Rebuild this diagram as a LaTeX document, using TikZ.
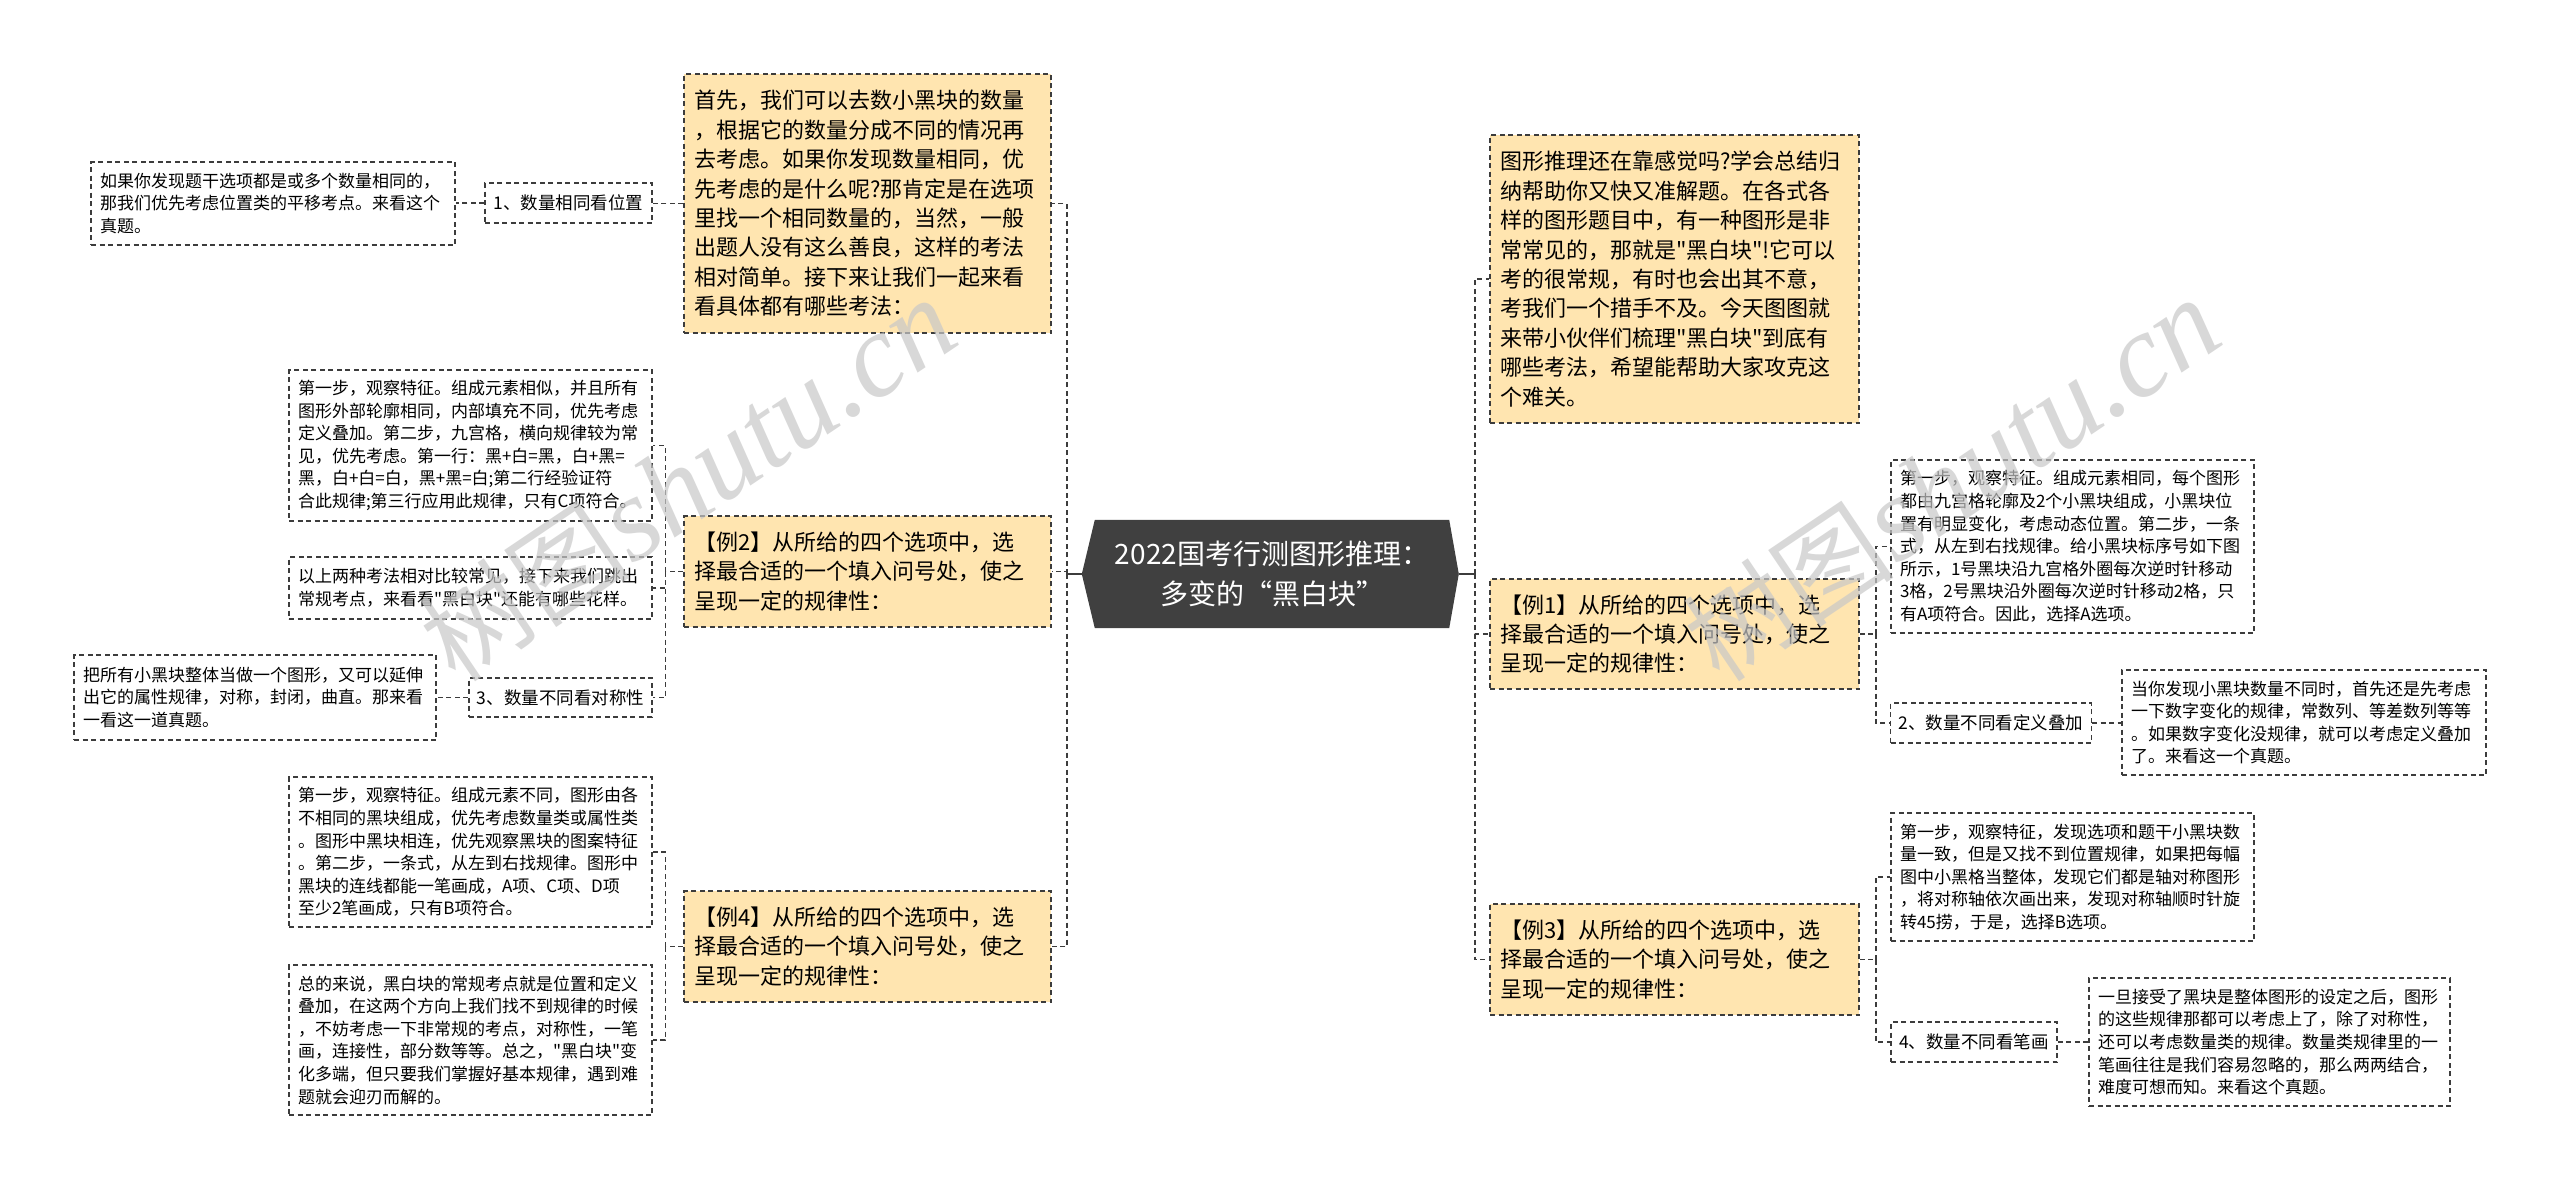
\documentclass[tikz,border=0pt]{standalone}
\usepackage{fontspec}
\setmainfont{Noto Sans CJK SC}
\newfontfamily\cjk{Noto Sans CJK SC}
\newfontfamily\wmserif{Liberation Serif}
\usetikzlibrary{backgrounds}
\definecolor{yel}{RGB}{255,229,176}
\definecolor{lc}{RGB}{60,60,60}
\definecolor{darkfill}{RGB}{64,64,64}
\definecolor{wmcol}{RGB}{200,200,200}
\tikzset{
  dsh/.style={dash pattern=on 5pt off 3.5pt},
  boxbase/.style={draw=lc, line width=1.5pt, dsh, align=left, anchor=center},
  ybox/.style={boxbase, fill=yel, inner xsep=10pt, inner ysep=0pt, font=\cjk\fontsize{22}{29.4}\selectfont},
  wbox/.style={boxbase, fill=white, inner xsep=9pt, inner ysep=0pt, font=\cjk\fontsize{17}{22.6}\selectfont},
  lbox/.style={boxbase, fill=white, inner xsep=8pt, inner ysep=0pt, align=center, font=\cjk\fontsize{17.5}{22}\selectfont},
  conn/.style={draw=lc, line width=1.5pt, dsh},
  stub/.style={draw=lc, line width=1.5pt},
  rootbox/.style={inner sep=0pt, text=white, align=center, minimum width=354pt, minimum height=108pt, font=\cjk\fontsize{28}{40}\selectfont},
  wmark/.style={text=wmcol, opacity=0.7, inner sep=0pt, font=\cjk\fontsize{106}{106}\selectfont},
}
\newcommand\wmtext{树图{\wmserif\itshape\fontsize{119}{119}\selectfont shutu.cn}}
\begin{document}
\begin{tikzpicture}[x=1pt,y=-1pt]
\useasboundingbox (0,0) rectangle (2560,1189);
\begin{pgfonlayer}{background}
\fill[white] (0,0) rectangle (2560,1189);
\end{pgfonlayer}

% root
\node[rootbox] (root) at (1272,574) {2022国考行测图形推理：\\多变的“黑白块”};
\begin{pgfonlayer}{background}
\fill[darkfill] (root.north west) -- (root.north east) -- ([xshift=9.6pt]root.east) -- (root.south east) -- (root.south west) -- ([xshift=-13pt]root.west) -- cycle;
\end{pgfonlayer}
\coordinate (rootL) at ([xshift=-13pt]root.west);
\coordinate (rootR) at ([xshift=9.6pt]root.east);

% left side
\node[ybox, text width=347pt, minimum height=259pt] (A) at (867.5,203.5) {首先，我们可以去数小黑块的数量\\，根据它的数量分成不同的情况再\\去考虑。如果你发现数量相同，优\\先考虑的是什么呢?那肯定是在选项\\里找一个相同数量的，当然，一般\\出题人没有这么善良，这样的考法\\相对简单。接下来让我们一起来看\\看具体都有哪些考法：};
\node[lbox, minimum width=167pt, minimum height=40pt] (B) at (568.5,203) {1、数量相同看位置};
\node[wbox, text width=346pt, minimum height=83pt] (C) at (273,203.5) {如果你发现题干选项都是或多个数量相同的，\\那我们优先考虑位置类的平移考点。来看这个\\真题。};

\node[ybox, text width=347pt, minimum height=111pt] (D) at (867.5,571.5) {【例2】从所给的四个选项中，选\\择最合适的一个填入问号处，使之\\呈现一定的规律性：};
\node[wbox, text width=345pt, minimum height=151pt] (E) at (470.5,445.5) {第一步，观察特征。组成元素相似，并且所有\\图形外部轮廓相同，内部填充不同，优先考虑\\定义叠加。第二步，九宫格，横向规律较为常\\见，优先考虑。第一行：黑+白=黑，白+黑=\\黑，白+白=白，黑+黑=白;第二行经验证符\\合此规律;第三行应用此规律，只有C项符合。};
\node[wbox, text width=345pt, minimum height=62pt] (F) at (470.5,588) {以上两种考法相对比较常见，接下来我们跳出\\常规考点，来看看"黑白块"还能有哪些花样。};
\node[lbox, minimum width=183pt, minimum height=39pt] (G) at (560.5,697.5) {3、数量不同看对称性};
\node[wbox, text width=344pt, minimum height=85pt] (H) at (255,697.5) {把所有小黑块整体当做一个图形，又可以延伸\\出它的属性规律，对称，封闭，曲直。那来看\\一看这一道真题。};

\node[ybox, text width=347pt, minimum height=111pt] (I) at (867.5,946.5) {【例4】从所给的四个选项中，选\\择最合适的一个填入问号处，使之\\呈现一定的规律性：};
\node[wbox, text width=345pt, minimum height=150pt] (J) at (470.5,852) {第一步，观察特征。组成元素不同，图形由各\\不相同的黑块组成，优先考虑数量类或属性类\\。图形中黑块相连，优先观察黑块的图案特征\\。第二步，一条式，从左到右找规律。图形中\\黑块的连线都能一笔画成，A项、C项、D项\\至少2笔画成，只有B项符合。};
\node[wbox, text width=345pt, minimum height=150pt] (K) at (470.5,1040) {总的来说，黑白块的常规考点就是位置和定义\\叠加，在这两个方向上我们找不到规律的时候\\，不妨考虑一下非常规的考点，对称性，一笔\\画，连接性，部分数等等。总之，"黑白块"变\\化多端，但只要我们掌握好基本规律，遇到难\\题就会迎刃而解的。};

% right side
\node[ybox, text width=349pt, minimum height=288pt] (L) at (1674.5,279) {图形推理还在靠感觉吗?学会总结归\\纳帮助你又快又准解题。在各式各\\样的图形题目中，有一种图形是非\\常常见的，那就是"黑白块"!它可以\\考的很常规，有时也会出其不意，\\考我们一个措手不及。今天图图就\\来带小伙伴们梳理"黑白块"到底有\\哪些考法，希望能帮助大家攻克这\\个难关。};

\node[ybox, text width=349pt, minimum height=110pt] (M) at (1674.5,634) {【例1】从所给的四个选项中，选\\择最合适的一个填入问号处，使之\\呈现一定的规律性：};
\node[wbox, text width=345pt, minimum height=173pt] (N) at (2072.5,546.5) {第一步，观察特征。组成元素相同，每个图形\\都由九宫格轮廓及2个小黑块组成，小黑块位\\置有明显变化，考虑动态位置。第二步，一条\\式，从左到右找规律。给小黑块标序号如下图\\所示，1号黑块沿九宫格外圈每次逆时针移动\\3格，2号黑块沿外圈每次逆时针移动2格，只\\有A项符合。因此，选择A选项。};
\node[lbox, minimum width=200pt, minimum height=40pt] (O) at (1991,723) {2、数量不同看定义叠加};
\node[wbox, text width=346pt, minimum height=105pt] (P) at (2304,722.5) {当你发现小黑块数量不同时，首先还是先考虑\\一下数字变化的规律，常数列、等差数列等等\\。如果数字变化没规律，就可以考虑定义叠加\\了。来看这一个真题。};

\node[ybox, text width=349pt, minimum height=111pt] (Q) at (1674.5,959.5) {【例3】从所给的四个选项中，选\\择最合适的一个填入问号处，使之\\呈现一定的规律性：};
\node[wbox, text width=345pt, minimum height=128pt] (R) at (2072.5,877) {第一步，观察特征，发现选项和题干小黑块数\\量一致，但是又找不到位置规律，如果把每幅\\图中小黑格当整体，发现它们都是轴对称图形\\，将对称轴依次画出来，发现对称轴顺时针旋\\转45捞，于是，选择B选项。};
\node[lbox, minimum width=166pt, minimum height=40pt] (S) at (1974,1042) {4、数量不同看笔画};
\node[wbox, text width=343pt, minimum height=128pt] (T) at (2269.5,1042) {一旦接受了黑块是整体图形的设定之后，图形\\的这些规律那都可以考虑上了，除了对称性，\\还可以考虑数量类的规律。数量类规律里的一\\笔画往往是我们容易忽略的，那么两两结合，\\难度可想而知。来看这个真题。};

% connectors: root to spines
\draw[stub] (rootL) -- ++(-15,0) coordinate (spL);
\draw[stub] (rootR) -- ++(16,0) coordinate (spR);
\draw[conn] (spL) |- (A.east);
\draw[conn] (spL) |- (D.east);
\draw[conn] (spL) |- (I.east);
\draw[conn] (spR) |- (L.west);
\draw[conn] (spR) |- (M.west);
\draw[conn] (spR) |- (Q.west);

% left groups
\draw[conn] (A.west) -- (A.west -| B.east);
\draw[conn] (B.west) -- (B.west -| C.east);
\draw[conn] (D.west) -- ++(-18,0) coordinate (jD);
\draw[conn] (jD) |- (E.east);
\draw[conn] (jD) |- (F.east);
\draw[conn] (jD) |- (G.east);
\draw[conn] (G.west) -- (G.west -| H.east);
\draw[conn] (I.west) -- ++(-18,0) coordinate (jI);
\draw[conn] (jI) |- (J.east);
\draw[conn] (jI) |- (K.east);

% right groups
\draw[conn] (M.east) -- ++(16,0) coordinate (jM);
\draw[conn] (jM) |- (N.west);
\draw[conn] (jM) |- (O.west);
\draw[conn] (O.east) -- (O.east -| P.west);
\draw[conn] (Q.east) -- ++(16,0) coordinate (jQ);
\draw[conn] (jQ) |- (R.west);
\draw[conn] (jQ) |- (S.west);
\draw[conn] (S.east) -- (S.east -| T.west);

% watermarks
\node[wmark, rotate=34] (wm1) at (688,480) {\wmtext};
\node[wmark, rotate=34] (wm2) at (1952,480) {\wmtext};
\end{tikzpicture}
\end{document}
